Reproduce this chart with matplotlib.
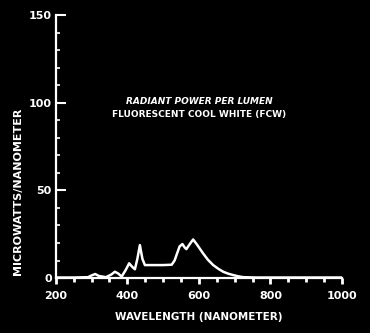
import matplotlib
matplotlib.use("Agg")
import matplotlib.pyplot as plt
from matplotlib.ticker import MultipleLocator

# Spectre (nm, microwatts/nm par lumen)
longueur_onde = [200, 250, 290, 300, 310, 320, 340, 355, 365, 375, 384, 395, 405,
                 413, 421, 428, 435, 442, 449, 460, 500, 524, 532, 539, 546, 554,
                 560, 565, 575, 584, 595, 612, 625, 640, 655, 668, 682, 696, 710,
                 724, 760, 800, 900, 1000]
puissance = [0.3, 0.3, 0.5, 1.5, 2.3, 1.2, 0.5, 2.0, 3.6, 2.5, 0.8, 4.5, 8.4,
             6.5, 5.0, 11.0, 18.8, 11.0, 7.4, 7.4, 7.4, 7.6, 10.0, 14.0, 18.0, 19.4,
             17.5, 16.5, 19.5, 22.0, 19.0, 14.0, 10.5, 7.4, 5.2, 3.6, 2.5, 1.7, 1.0,
             0.5, 0.3, 0.3, 0.3, 0.3]

ticks_x = [200, 400, 600, 800, 1000]
ticks_y = [0, 50, 100, 150]

titre = ["RADIANT POWER PER LUMEN", "FLUORESCENT COOL WHITE (FCW)"]
label_x = "WAVELENGTH (NANOMETER)"
label_y = "MICROWATTS/NANOMETER"

fig = plt.figure(figsize=(3.7, 3.33), dpi=100, facecolor="black")
ax = fig.add_axes([0.151, 0.165, 0.773, 0.79], facecolor="black")

ax.plot(longueur_onde, puissance, color="white", lw=1.8, solid_joinstyle="round")

ax.set_xlim(200, 1000)
ax.set_ylim(0, 150)

for lado in ["top", "right"]:
    ax.spines[lado].set_visible(False)
for lado in ["left", "bottom"]:
    ax.spines[lado].set_color("white")
    ax.spines[lado].set_linewidth(1.6)

ax.set_xticks(ticks_x)
ax.set_yticks(ticks_y)
ax.xaxis.set_minor_locator(MultipleLocator(50))
ax.yaxis.set_minor_locator(MultipleLocator(10))

ax.tick_params(axis="x", which="major", direction="out", length=4, width=2,
               colors="white", labelsize=8, pad=5)
ax.tick_params(axis="x", which="minor", direction="out", length=3, width=2,
               colors="white")
ax.tick_params(axis="y", which="major", direction="in", length=7, width=1.5,
               colors="white", labelsize=8, pad=3)
ax.tick_params(axis="y", which="minor", direction="in", length=3, width=1.2,
               colors="white")
for lbl in ax.get_xticklabels() + ax.get_yticklabels():
    lbl.set_fontweight("bold")

ax.set_xlabel(label_x, color="white", fontsize=7.5, fontweight="bold", labelpad=8)
ax.set_ylabel(label_y, color="white", fontsize=8, fontweight="bold")
ax.yaxis.set_label_coords(-0.115, 0.33)

ax.text(0.5, 0.673, titre[0], transform=ax.transAxes, color="white",
        fontsize=6.5, fontweight="bold", style="italic", ha="center", va="center")
ax.text(0.5, 0.622, titre[1], transform=ax.transAxes, color="white",
        fontsize=6.5, fontweight="bold", ha="center", va="center")

fig.savefig("out.png", dpi=100, facecolor="black")
